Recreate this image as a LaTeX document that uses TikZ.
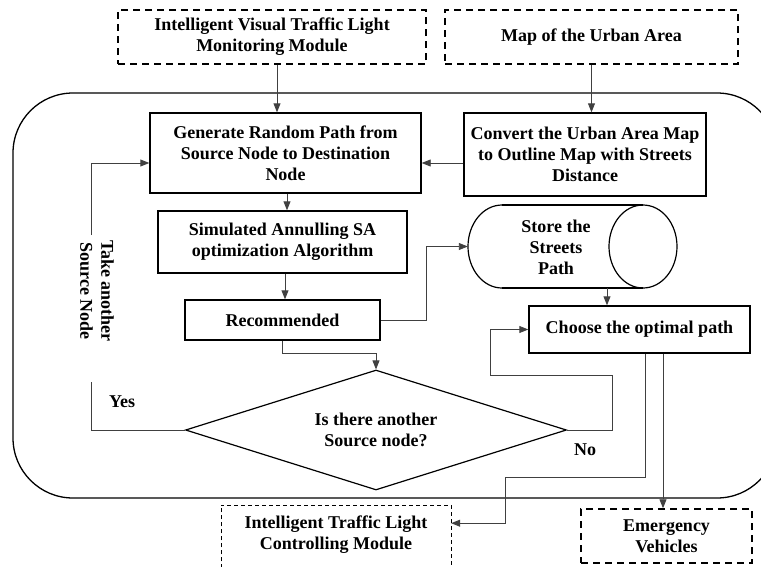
\documentclass[tikz,border=0pt]{standalone}
\usepackage{fontspec}
\setmainfont{Liberation Serif}
\usetikzlibrary{arrows.meta,calc,shapes.geometric}

\begin{document}
\begin{tikzpicture}[x=1pt,y=-1pt,
  every node/.style={font=\fontsize{18}{21}\selectfont\bfseries, align=center, inner sep=0pt},
  procbox/.style={draw=black, line width=1.4pt},
  dashbox/.style={draw=black, line width=1.5pt, dash pattern=on 7pt off 5pt},
  thindash/.style={draw=black, line width=0.6pt, dash pattern=on 4pt off 3pt},
  conn/.style={draw=black!75, line width=0.9pt},
  arr/.style={conn, -{Triangle[length=9pt,width=7pt]}},
  frame/.style={draw=black, line width=1.3pt, rounded corners=60pt}]

\path[use as bounding box, clip] (0,0) rectangle (761,566);

% inputs
\node[dashbox, minimum width=308pt, minimum height=54pt] (ivm) at (272,37)
  {Intelligent Visual Traffic Light\\Monitoring Module};
\node[dashbox, minimum width=293pt, minimum height=54pt] (map) at (591.5,37)
  {Map of the Urban Area};

% system frame
\draw[frame] (13,93) rectangle (777,498);

% processing steps
\node[procbox, minimum width=271pt, minimum height=80pt] (gen) at (285.5,153)
  {Generate Random Path from\\Source Node to Destination\\Node};
\node[procbox, minimum width=242pt, minimum height=83pt] (conv) at (585,154.5)
  {Convert the Urban Area Map\\to Outline Map with Streets\\Distance};
\node[procbox, minimum width=249pt, minimum height=62pt] (sim) at (282.5,242)
  {Simulated Annulling SA\\optimization Algorithm};
\node[procbox, minimum width=195pt, minimum height=40pt] (rec) at (282.5,320)
  {Recommended};

% storage cylinder
\node[minimum width=209pt, minimum height=83pt] (cyl) at (572.5,246.5) {};
\draw[line width=1.2pt] (502,205) -- (643,205) (502,288) -- (643,288);
\draw[line width=1.2pt] (502,205) arc[start angle=90, end angle=270, x radius=34pt, y radius=41.5pt];
\draw[line width=1.2pt] (643,246.5) ellipse [x radius=34pt, y radius=41.5pt];
\node (cyltxt) at (556,247) {Store the\\Streets\\Path};

\node[procbox, minimum width=221pt, minimum height=47pt] (choose) at (639.5,329.5)
  {Choose the optimal path};

% decision
\node[diamond, draw=black, line width=1.2pt, aspect=3.2, minimum width=381pt, minimum height=120pt] (dia) at (376,430)
  {Is there another\\Source node?};

% outputs
\node[dashbox, minimum width=171pt, minimum height=54pt] (emer) at (666.5,536)
  {Emergency\\Vehicles};
\node[minimum width=230pt, minimum height=58pt, anchor=north] (itlc) at (336,505)
  {Intelligent Traffic Light\\Controlling Module};
\draw[thindash] (itlc.south west) ++(0,12) |- (itlc.north east) -- ++(0,72);

% labels
\node (yes) at (122,402) {Yes};
\node (no) at (585,450) {No};
\node[rotate=-90] (take) at (97,291) {Take another\\Source Node};

% connectors
\draw[arr] ([xshift=5pt]ivm.south) -- ([xshift=-8.5pt]gen.north);
\draw[arr] (map.south) -- ([xshift=6.5pt]conv.north);
\draw[arr] ([yshift=-8.5pt]conv.west) -- ([yshift=-10pt]gen.east);
\draw[arr] ([xshift=1.5pt]gen.south) -- ([xshift=4.5pt]sim.north);
\draw[arr] ([xshift=2.5pt]sim.south) -- ([xshift=2.5pt]rec.north);
\draw[arr] (rec.east) -- ++(46,0) |- (cyl.west);
\draw[arr] ([xshift=34.5pt]cyl.south) -- ([xshift=-32.5pt]choose.north);
\draw[arr] (rec.south) -- ++(0,13) -| (dia.north);

\coordinate (ybot) at (91,382);
\coordinate (ytop) at (91,235);
\draw[conn] (dia.west) -| (ybot);
\draw[arr] (ytop) |- ([yshift=-10pt]gen.west);

\draw[arr] (dia.east) -- ++(45,0) |- ++(-122,-55) |- (choose.west);
\draw[arr] ([xshift=5.5pt]choose.south) -- ++(0,124) -- ++(-140,0) |- ([yshift=11pt]itlc.east);
\draw[arr] ([xshift=23.5pt]choose.south) -- ([xshift=-3.5pt]emer.north);
\end{tikzpicture}
\end{document}
